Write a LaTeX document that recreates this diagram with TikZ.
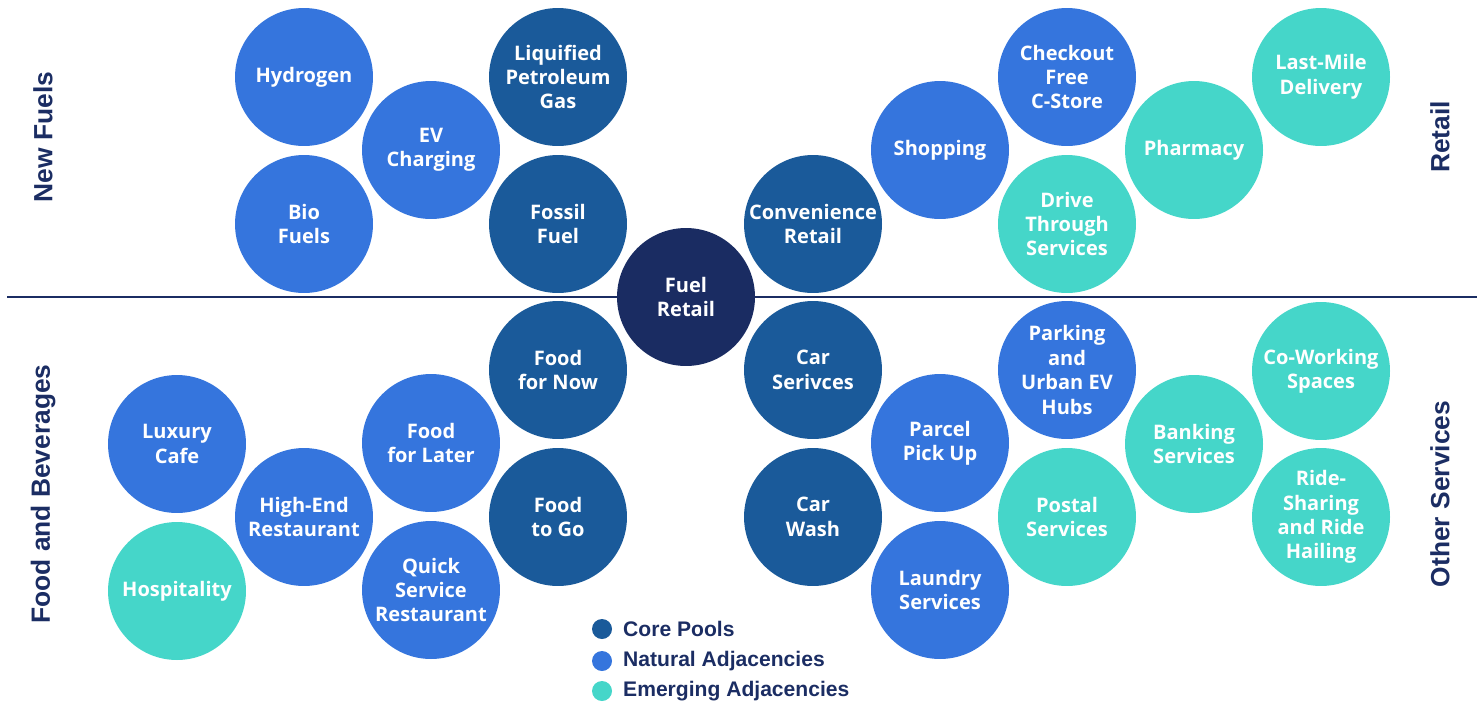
\documentclass[tikz,border=0pt]{standalone}
\usepackage{fontspec}
\newfontfamily\bubblefont{Open Sans}
\newfontfamily\headfont{Liberation Sans}
\usepackage{tikz}

\definecolor{corepool}{HTML}{1A5A9A}
\definecolor{natural}{HTML}{3575DD}
\definecolor{emerging}{HTML}{45D6C9}
\definecolor{hub}{HTML}{1A2C62}
\definecolor{navy}{HTML}{1B2D63}

\begin{document}
\begin{tikzpicture}[x=0.02cm, y=-0.02cm,
    bubble/.style={circle, inner sep=0pt, minimum size=2.76cm, align=center,
      text=white, font=\bubblefont\bfseries\fontsize{11.4}{13.9}\selectfont},
    core/.style={bubble, fill=corepool},
    nat/.style={bubble, fill=natural},
    emg/.style={bubble, fill=emerging},
    side/.style={rotate=90, text=navy, font=\headfont\bfseries\fontsize{15}{18}\selectfont},
    legdot/.style={circle, inner sep=0pt, minimum size=0.4cm},
    legtext/.style={anchor=west, text=navy, font=\headfont\bfseries\fontsize{12}{14}\selectfont}]
      \useasboundingbox (0,0) rectangle (1483,707);

      % divider between the upper and lower halves
      \coordinate (divl) at (7,297);
      \coordinate (divr) at (1477,297);
      \draw[navy, line width=0.7pt] (divl) -- (divr);

      % centre
      \node[bubble, fill=hub] (fuelretail) at (686,297) {Fuel\\Retail};

      % new fuels
      \node[nat] (hydrogen) at (304,77) {Hydrogen};
      \node[nat] (evcharging) at (431,150) {EV\\Charging};
      \node[nat] (biofuels) at (304,224) {Bio\\Fuels};
      \node[core] (lpg) at (558,77) {Liquified\\Petroleum\\Gas};
      \node[core] (fossilfuel) at (558,224) {Fossil\\Fuel};

      % retail
      \node[core] (convenience) at (813,224) {Convenience\\Retail};
      \node[nat] (shopping) at (940,150) {Shopping};
      \node[nat] (checkout) at (1067,77) {Checkout\\Free\\C-Store};
      \node[emg] (drivethrough) at (1067,224) {Drive\\Through\\Services};
      \node[emg] (pharmacy) at (1194,150) {Pharmacy};
      \node[emg] (lastmile) at (1321,77) {Last-Mile\\Delivery};

      % food and beverages
      \node[core] (foodnow) at (558,370) {Food\\for Now};
      \node[nat] (foodlater) at (431,443) {Food\\for Later};
      \node[core] (foodgo) at (558,517) {Food\\to Go};
      \node[nat] (luxurycafe) at (177,444) {Luxury\\Cafe};
      \node[nat] (highend) at (304,517) {High-End\\Restaurant};
      \node[emg] (hospitality) at (177,591) {Hospitality};
      \node[nat] (quickservice) at (431,590) {Quick\\Service\\Restaurant};

      % other services
      \node[core] (carservices) at (813,370) {Car\\Serivces};
      \node[core] (carwash) at (813,517) {Car\\Wash};
      \node[nat] (parcel) at (940,443) {Parcel\\Pick Up};
      \node[nat] (laundry) at (940,590) {Laundry\\Services};
      \node[nat] (parking) at (1067,370) {Parking\\and\\Urban EV\\Hubs};
      \node[emg] (postal) at (1067,517) {Postal\\Services};
      \node[emg] (banking) at (1194,444) {Banking\\Services};
      \node[emg] (coworking) at (1321,371) {Co-Working\\Spaces};
      \node[emg] (ridesharing) at (1321,517) {Ride-\\Sharing\\and Ride\\Hailing};

      % group titles
      \node[side] (newfuels) at (43,137) {New Fuels};
      \node[side] (foodbev) at (43,494) {Food and Beverages};
      \node[side] (retail) at (1440,137) {Retail};
      \node[side] (otherserv) at (1440,494) {Other Services};

      % legend
      \node[legdot, fill=corepool] (dotcore) at (602,629) {};
      \node[legdot, fill=natural] (dotnat) at (602,661) {};
      \node[legdot, fill=emerging] (dotemg) at (602,691) {};
      \node[legtext] (legcore) at (617,629) {Core Pools};
      \node[legtext] (legnat) at (617,661) {Natural Adjacencies};
      \node[legtext] (legemg) at (617,691) {Emerging Adjacencies};
\end{tikzpicture}
\end{document}
